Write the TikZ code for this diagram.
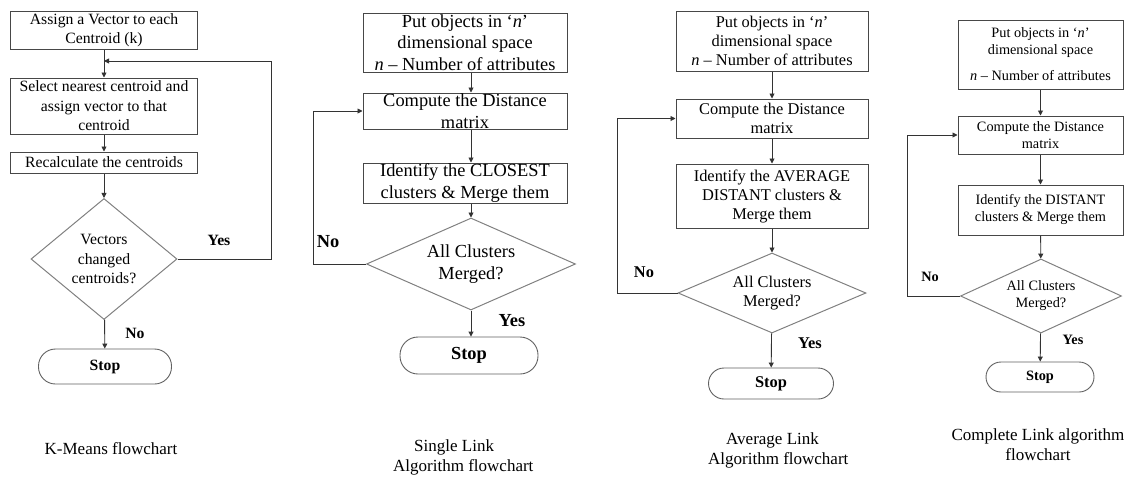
\documentclass[tikz,border=0pt]{standalone}
\usepackage{fontspec}
\setmainfont{Liberation Serif}
\usetikzlibrary{shapes.geometric,arrows.meta}
\begin{document}
\begin{tikzpicture}[x=1pt,y=-1pt,
 box/.style={draw=black!72, line width=1pt, rectangle, inner sep=0pt, align=center},
 dec/.style={draw=black!50, line width=1pt, diamond, inner sep=0pt, align=center},
 term/.style={draw=black!62, line width=0.9pt, rectangle, inner sep=0pt},
 arr/.style={draw=black!80, line width=0.9pt, -{Triangle[width=5pt,length=5pt]}},
 lbl/.style={inner sep=0pt},
 captxt/.style={inner sep=0pt, font=\fontsize{17}{20}\selectfont},
 fA/.style={font=\fontsize{15.7}{19.5}\selectfont},
 fB/.style={font=\fontsize{18.4}{21.5}\selectfont},
 fC/.style={font=\fontsize{16.4}{19}\selectfont},
 fD/.style={font=\fontsize{14.3}{17}\selectfont}]
\useasboundingbox (0,0) rectangle (1133,477);

% ---------- K-Means ----------
\begin{scope}[every node/.append style={fA}]
\node[box, minimum width=187, minimum height=38] (a1) at (104,30) {Assign a Vector to each\\Centroid (k)};
\node[box, minimum width=187, minimum height=56] (a2) at (104,106) {Select nearest centroid and\\assign vector to that\\centroid};
\node[box, minimum width=187, minimum height=21] (a3) at (104,162.5) {Recalculate the centroids};
\node[dec, minimum width=146, minimum height=121, aspect=1.2] (a4) at (104,259) {Vectors\\changed\\centroids?};
\node[term, minimum width=133, minimum height=35, rounded corners=17pt] (a5) at (105,366.5) {\bfseries Stop};
\node[lbl] (ay) at (219,240) {\bfseries Yes};
\node[lbl] (an) at (135,333) {\bfseries No};
\end{scope}
\coordinate (ya) at (0,61);
\coordinate (ja) at (a1.south |- ya);
\coordinate (ca) at (271,61);
\draw[arr] (a1) -- (a2);
\draw[arr] (a2) -- (a3);
\draw[arr] (a3) -- (a4);
\draw[arr] (a4) -- (a5);
\draw[arr] (a4.east) -| (ca) -- (ja);
\node[captxt] (capa) at (111,449) {K-Means flowchart};

% ---------- Single Link ----------
\begin{scope}[every node/.append style={fB}]
\node[box, minimum width=204, minimum height=59] (b1) at (465,42.5) {Put objects in ‘\textit{n}’\\dimensional space\\\textit{n} – Number of attributes};
\node[box, minimum width=204, minimum height=36] (b2) at (465,111) {Compute the Distance\\matrix};
\node[box, minimum width=204, minimum height=40] (b3) at (465,183) {Identify the CLOSEST\\clusters \& Merge them};
\node[dec, minimum width=209, minimum height=92, aspect=2.27] (b4) at (471,264) {All Clusters\\Merged?};
\node[term, minimum width=138, minimum height=37, rounded corners=18pt] (b5) at (469,355.5) {\bfseries Stop};
\node[lbl] (bn) at (328,242) {\bfseries No};
\node[lbl] (by) at (512,321) {\bfseries Yes};
\end{scope}
\coordinate (cb) at (313,111);
\draw[arr] (b1.south -| b4.north) -- (b2.north -| b4.north);
\draw[arr] (b2.south -| b4.north) -- (b3.north -| b4.north);
\draw[arr] (b3.south -| b4.north) -- (b4.north);
\draw[arr] (b4.south) -- (b5.north -| b4.south);
\draw[arr] (b4.west) -| (cb) -- (b2.west);
\node[captxt, anchor=west, align=left] (capb) at (393,457) {\hspace*{21pt}Single Link\\Algorithm flowchart};

% ---------- Average Link ----------
\begin{scope}[every node/.append style={fC}]
\node[box, minimum width=192, minimum height=60] (c1) at (772,41) {Put objects in ‘\textit{n}’\\dimensional space\\\textit{n} – Number of attributes};
\node[box, minimum width=192, minimum height=39] (c2) at (772,118.5) {Compute the Distance\\matrix};
\node[box, minimum width=192, minimum height=64] (c3) at (772,196) {Identify the AVERAGE\\DISTANT clusters \&\\Merge them};
\node[dec, minimum width=188, minimum height=80, aspect=2.35] (c4) at (772,293) {All Clusters\\Merged?};
\node[term, minimum width=125, minimum height=31, rounded corners=15.5pt] (c5) at (771,383.5) {\bfseries Stop};
\node[lbl] (cn) at (644,272) {\bfseries No};
\node[lbl] (cy) at (810,343) {\bfseries Yes};
\end{scope}
\coordinate (cc) at (617,118.5);
\draw[arr] (c1) -- (c2);
\draw[arr] (c2) -- (c3);
\draw[arr] (c3) -- (c4);
\draw[arr] (c4) -- (c5);
\draw[arr] (c4.west) -| (cc) -- (c2.west);
\node[captxt, anchor=west, align=left] (capc) at (708,450.5) {\hspace*{18pt}Average Link\\Algorithm flowchart};

% ---------- Complete Link ----------
\begin{scope}[every node/.append style={fD}]
\node[box, minimum width=165, minimum height=69] (d1) at (1040.5,54.5) {Put objects in ‘\textit{n}’\\dimensional space\\[9pt]\textit{n} – Number of attributes};
\node[box, minimum width=165, minimum height=38] (d2) at (1040.5,135) {Compute the Distance\\matrix};
\node[box, minimum width=165, minimum height=50] (d3) at (1040.5,210) {Identify the DISTANT\\clusters \& Merge them};
\node[dec, minimum width=161, minimum height=74, aspect=2.18] (d4) at (1041,296) {All Clusters\\Merged?};
\node[term, minimum width=108, minimum height=30, rounded corners=15pt] (d5) at (1040,377) {\bfseries Stop};
\node[lbl] (dn) at (930,277) {\bfseries No};
\node[lbl] (dy) at (1073,340) {\bfseries Yes};
\end{scope}
\coordinate (cd) at (907,135);
\draw[arr] (d1) -- (d2);
\draw[arr] (d2) -- (d3);
\draw[arr] (d3) -- (d4);
\draw[arr] (d4) -- (d5);
\draw[arr] (d4.west) -| (cd) -- (d2.west);
\node[captxt, align=center] (capd) at (1038,445) {Complete Link algorithm\\flowchart};
\end{tikzpicture}
\end{document}
